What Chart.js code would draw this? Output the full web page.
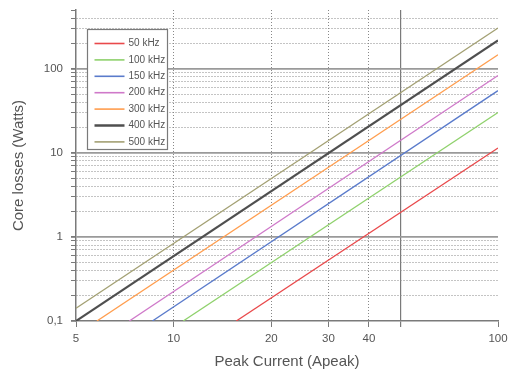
<!DOCTYPE html>
<html>
<head>
<meta charset="utf-8">
<title>Core losses</title>
<script src="https://cdn.jsdelivr.net/npm/chart.js@4.4.0/dist/chart.umd.min.js"></script>
<style>
    html, body { margin: 0; padding: 0; background: #fff; }
    #wrap { width: 508px; height: 371px; position: relative; }
</style>
</head>
<body>
<div id="wrap"><canvas id="lossChart"></canvas></div>
<script>
// frequencies and the two ends of each loss line (current in A, loss in W)
var seriesNames = ['50 kHz', '100 kHz', '150 kHz', '200 kHz', '300 kHz', '400 kHz', '500 kHz'];
var startCurrent = [15.6, 10.7, 8.6, 7.3, 5.8, 5, 5];
var startLoss = [0.1, 0.1, 0.1, 0.1, 0.1, 0.1, 0.142];
var endCurrent = [100, 100, 100, 100, 100, 100, 100];
var endLoss = [11.4, 30.2, 55, 83, 147, 218, 306];

// axis ticks
var xTickValues = [5, 10, 20, 30, 40, 50, 100];
var xTickLabels = ['5', '10', '20', '30', '40', '', '100'];
var yDecades = [0.1, 1, 10, 100];
var yDecadeLabels = ['0,1', '1', '10', '100'];
var yMax = 500;

var lineColors = ['#e9494b', '#8fd16c', '#5a7bcb', '#cf79c9', '#ff9d4e', '#4f4f4f', '#a3a073'];
var lineWidths = [1.3, 1.3, 1.3, 1.3, 1.3, 2.2, 1.3];
var textColor = '#555';
var axisColor = '#7a7a7a';

Chart.defaults.font.family = "'Liberation Sans', Arial, sans-serif";

// every 1..9 step inside each decade, up to the top of the axis
var yTickValues = [];
yDecades.forEach(function (d) {
    for (var m = 1; m <= 9; m++) {
        var v = parseFloat((d * m).toPrecision(3));
        if (v <= yMax) yTickValues.push(v);
    }
});

function isMajorY(v) {
    return yDecades.indexOf(v) !== -1;
}

var datasets = seriesNames.map(function (name, i) {
    return {
        label: name,
        data: [
            { x: startCurrent[i], y: startLoss[i] },
            { x: endCurrent[i], y: endLoss[i] }
        ],
        showLine: true,
        borderColor: lineColors[i],
        backgroundColor: lineColors[i],
        borderWidth: lineWidths[i],
        pointRadius: 0,
        fill: false
    };
});

// legend box drawn inside the plot area
var insideLegend = {
    id: 'insideLegend',
    afterDraw: function (chart) {
        var ctx = chart.ctx;
        var area = chart.chartArea;
        var boxLeft = area.left + 11.5;
        var boxTop = area.top + 19.5;
        var boxW = 80;
        var boxH = 120;

        ctx.save();
        ctx.fillStyle = '#fff';
        ctx.fillRect(boxLeft, boxTop, boxW, boxH);
        ctx.strokeStyle = axisColor;
        ctx.lineWidth = 1.2;
        ctx.strokeRect(boxLeft, boxTop, boxW, boxH);

        ctx.font = "10px 'Liberation Sans', Arial, sans-serif";
        ctx.textBaseline = 'middle';
        ctx.textAlign = 'left';
        chart.data.datasets.forEach(function (ds, i) {
            var y = boxTop + 14 + i * 16.4;
            ctx.strokeStyle = ds.borderColor;
            ctx.lineWidth = ds.borderWidth + 0.3;
            ctx.beginPath();
            ctx.moveTo(boxLeft + 7, y);
            ctx.lineTo(boxLeft + 37, y);
            ctx.stroke();
            ctx.fillStyle = textColor;
            ctx.fillText(ds.label, boxLeft + 41, y);
        });
        ctx.restore();
    }
};

var ctx = document.getElementById('lossChart').getContext('2d');
var lossChart = new Chart(ctx, {
    type: 'scatter',
    data: { datasets: datasets },
    options: {
        responsive: true,
        maintainAspectRatio: false,
        animation: false,
        layout: { padding: { top: 10, right: 10, left: 0, bottom: 0 } },
        plugins: {
            legend: { display: false },
            tooltip: { enabled: false }
        },
        scales: {
            x: {
                type: 'logarithmic',
                min: 5,
                max: 100,
                afterBuildTicks: function (scale) {
                    scale.ticks = xTickValues.map(function (v) { return { value: v }; });
                },
                afterFit: function (scale) {
                    scale.height = 50;
                    scale.paddingLeft = 0;
                    scale.paddingRight = 0;
                },
                ticks: {
                    autoSkip: false,
                    maxRotation: 0,
                    padding: 5,
                    color: textColor,
                    font: { size: 11.5 },
                    callback: function (value, index) {
                        return xTickLabels[index];
                    }
                },
                grid: {
                    color: function (c) {
                        if (!c.tick) return axisColor;
                        var v = c.tick.value;
                        if (v === 5 || v === 100) return 'rgba(0,0,0,0)';
                        return v === 50 ? '#7a7a7a' : '#888';
                    },
                    lineWidth: function (c) {
                        return c.tick && c.tick.value === 50 ? 1.2 : 1;
                    },
                    tickLength: 6,
                    tickColor: axisColor,
                    tickBorderDash: []
                },
                border: {
                    color: axisColor,
                    width: 1.5,
                    dash: function (c) {
                        if (!c.tick) return [];
                        return c.tick.value === 50 ? [] : [1, 2];
                    }
                },
                title: {
                    display: true,
                    text: 'Peak Current (Apeak)',
                    color: textColor,
                    font: { size: 15 },
                    padding: { top: 0, bottom: 0 }
                }
            },
            y: {
                type: 'logarithmic',
                min: 0.1,
                max: yMax,
                afterBuildTicks: function (scale) {
                    scale.ticks = yTickValues.map(function (v) { return { value: v }; });
                },
                afterFit: function (scale) {
                    scale.width = 76;
                    scale.paddingTop = 0;
                    scale.paddingBottom = 0;
                },
                ticks: {
                    autoSkip: false,
                    padding: 8,
                    color: textColor,
                    font: { size: 11.5 },
                    callback: function (value) {
                        var k = yDecades.indexOf(value);
                        return k === -1 ? '' : yDecadeLabels[k];
                    }
                },
                grid: {
                    color: function (c) {
                        if (!c.tick) return axisColor;
                        var v = c.tick.value;
                        if (v === 0.1 || v === yMax) return 'rgba(0,0,0,0)';
                        return isMajorY(v) ? '#9a9a9a' : '#888';
                    },
                    lineWidth: function (c) {
                        return c.tick && isMajorY(c.tick.value) ? 1.8 : 1;
                    },
                    tickLength: 5,
                    tickColor: axisColor,
                    tickBorderDash: []
                },
                border: {
                    color: axisColor,
                    width: 1.5,
                    dash: function (c) {
                        if (!c.tick) return [];
                        return isMajorY(c.tick.value) ? [] : [1, 2];
                    }
                },
                title: {
                    display: true,
                    text: 'Core losses (Watts)',
                    color: textColor,
                    font: { size: 15 },
                    padding: { top: 10, bottom: 0 }
                }
            }
        }
    },
    plugins: [insideLegend]
});
</script>
</body>
</html>
